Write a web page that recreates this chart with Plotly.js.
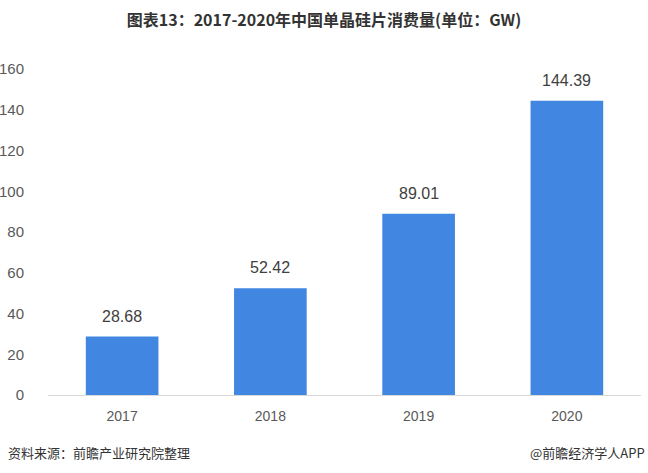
<!DOCTYPE html>
<html>
<head>
<meta charset="utf-8">
<script src="https://cdn.plot.ly/plotly-3.0.1.min.js"></script>
<style>html,body{margin:0;padding:0;background:#fff;}#chart{width:648px;height:473px;}</style>
</head>
<body>
<div id="chart"></div>
<script>
const categories = ['2017', '2018', '2019', '2020'];
const consumption = [28.68, 52.42, 89.01, 144.39];
const valueLabels = ['28.68', '52.42', '89.01', '144.39'];
const yTicks = [0, 20, 40, 60, 80, 100, 120, 140, 160];

const xPos = categories.map((c, i) => i);

const trace = {
  type: 'bar',
  x: xPos,
  y: consumption,
  width: 0.49,
  marker: {color: '#4186E0'},
  hoverinfo: 'none'
};

const annotations = xPos.map((x, i) => ({
  x: x, y: consumption[i], xref: 'x', yref: 'y',
  text: valueLabels[i], showarrow: false,
  yanchor: 'bottom', yshift: 10,
  font: {family: 'Liberation Sans, Arial, sans-serif', size: 16, color: '#404040'}
}));

annotations.push({
  xref: 'paper', yref: 'paper', x: -0.07, y: -0.175, xanchor: 'left', yanchor: 'middle',
  text: '资料来源：前瞻产业研究院整理', showarrow: false,
  font: {family: 'Noto Sans CJK SC, sans-serif', size: 13, color: '#333333'}
});
annotations.push({
  xref: 'paper', yref: 'paper', x: 1.01, y: -0.175, xanchor: 'right', yanchor: 'middle',
  text: '@前瞻经济学人APP', showarrow: false,
  font: {family: 'Noto Sans CJK SC, sans-serif', size: 13, color: '#333333'}
});

const layout = {
  width: 648, height: 473,
  margin: {l: 48, r: 7, t: 69, b: 78},
  paper_bgcolor: '#ffffff', plot_bgcolor: '#ffffff',
  title: {
    text: '<b>图表13：2017-2020年中国单晶硅片消费量(单位：GW)</b>',
    x: 0.5, xanchor: 'center', y: 0.957, yanchor: 'middle',
    font: {family: 'Noto Sans CJK SC, sans-serif', size: 16, color: '#333333'}
  },
  showlegend: false,
  xaxis: {
    type: 'linear',
    range: [-0.5, 3.5],
    tickvals: xPos,
    ticktext: categories,
    showline: true, linecolor: '#d9d9d9', linewidth: 1,
    showgrid: false, zeroline: false, ticks: 'outside', ticklen: 8, tickcolor: 'rgba(0,0,0,0)',
    tickfont: {family: 'Liberation Sans, Arial, sans-serif', size: 14, color: '#595959'}
  },
  yaxis: {
    range: [0, 160],
    tickvals: yTicks,
    ticktext: yTicks.map(String),
    showgrid: false, zeroline: false, showline: false,
    ticks: 'outside', ticklen: 20, tickcolor: 'rgba(0,0,0,0)',
    tickfont: {family: 'Liberation Sans, Arial, sans-serif', size: 15, color: '#595959'}
  },
  annotations: annotations
};

Plotly.newPlot('chart', [trace], layout, {staticPlot: true, displayModeBar: false});
</script>
</body>
</html>
